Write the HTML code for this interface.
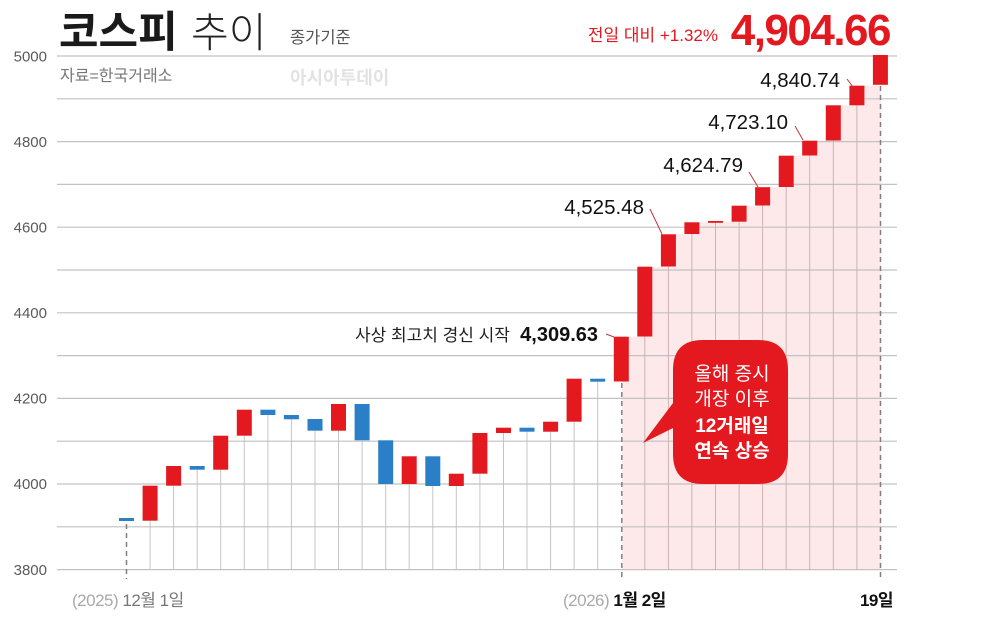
<!DOCTYPE html>
<html><head><meta charset="utf-8">
<style>
html,body{margin:0;padding:0;background:#fff;}
svg{display:block;}
text{font-family:"Liberation Sans","Noto Sans CJK KR",sans-serif;}
</style></head>
<body>
<svg width="1000" height="620" viewBox="0 0 1000 620" xmlns="http://www.w3.org/2000/svg">
<rect width="1000" height="620" fill="#fff"/>
<!-- pink area -->
<path d="M622,570 V336.7 H637.3 V266.7 H660.9 V234.3 H684.4 V222.3 H708 V221.5 H731.6 V205.7 H755.1 V187.2 H778.7 V155.7 H802.2 V140.7 H825.8 V105.3 H849.4 V85.7 H881 V570 Z" fill="#fde9e9"/>
<!-- gridlines -->
<g stroke="#c2c2c2" stroke-width="1.2">
<line x1="57" x2="897" y1="56" y2="56"/>
<line x1="57" x2="897" y1="98.8" y2="98.8"/>
<line x1="57" x2="897" y1="141.6" y2="141.6"/>
<line x1="57" x2="897" y1="184.4" y2="184.4"/>
<line x1="57" x2="897" y1="227.2" y2="227.2"/>
<line x1="57" x2="897" y1="270" y2="270"/>
<line x1="57" x2="897" y1="312.8" y2="312.8"/>
<line x1="57" x2="897" y1="355.6" y2="355.6"/>
<line x1="57" x2="897" y1="398.4" y2="398.4"/>
<line x1="57" x2="897" y1="441.2" y2="441.2"/>
<line x1="57" x2="897" y1="484" y2="484"/>
<line x1="57" x2="897" y1="526.8" y2="526.8"/>
<line x1="57" x2="897" y1="569.6" y2="569.6"/>
</g>
<!-- vertical lines -->
<g stroke="#c4c4c4" stroke-width="1">
<line x1="150.1" x2="150.1" y1="520.7" y2="570"/>
<line x1="173.6" x2="173.6" y1="485.7" y2="570"/>
<line x1="197.2" x2="197.2" y1="469.7" y2="570"/>
<line x1="220.7" x2="220.7" y1="469.7" y2="570"/>
<line x1="244.3" x2="244.3" y1="435.7" y2="570"/>
<line x1="267.9" x2="267.9" y1="415" y2="570"/>
<line x1="291.4" x2="291.4" y1="419.3" y2="570"/>
<line x1="315" x2="315" y1="430.7" y2="570"/>
<line x1="338.5" x2="338.5" y1="430.7" y2="570"/>
<line x1="362.1" x2="362.1" y1="440.3" y2="570"/>
<line x1="385.7" x2="385.7" y1="484" y2="570"/>
<line x1="409.2" x2="409.2" y1="484" y2="570"/>
<line x1="432.8" x2="432.8" y1="486" y2="570"/>
<line x1="456.3" x2="456.3" y1="486" y2="570"/>
<line x1="479.9" x2="479.9" y1="473.7" y2="570"/>
<line x1="503.5" x2="503.5" y1="433" y2="570"/>
<line x1="527" x2="527" y1="431.7" y2="570"/>
<line x1="550.6" x2="550.6" y1="431.7" y2="570"/>
<line x1="574.1" x2="574.1" y1="421.7" y2="570"/>
<line x1="597.7" x2="597.7" y1="381.7" y2="570"/>
</g>
<g stroke="#cdb3b3" stroke-width="1">
<line x1="644.8" x2="644.8" y1="336.5" y2="570"/>
<line x1="668.4" x2="668.4" y1="266.5" y2="570"/>
<line x1="691.9" x2="691.9" y1="234" y2="570"/>
<line x1="715.5" x2="715.5" y1="223" y2="570"/>
<line x1="739.1" x2="739.1" y1="221.7" y2="570"/>
<line x1="762.6" x2="762.6" y1="205.5" y2="570"/>
<line x1="786.2" x2="786.2" y1="187" y2="570"/>
<line x1="809.7" x2="809.7" y1="155.5" y2="570"/>
<line x1="833.3" x2="833.3" y1="140.5" y2="570"/>
<line x1="856.9" x2="856.9" y1="105.3" y2="570"/>
</g>
<!-- dashed lines -->
<g stroke="#808080" stroke-width="1.5" stroke-dasharray="5,4">
<line x1="126.5" x2="126.5" y1="524" y2="579"/>
<line x1="621.8" x2="621.8" y1="383" y2="579"/>
<line x1="880.5" x2="880.5" y1="86" y2="579"/>
</g>
<!-- candles -->
<g fill="#2a7fc6">
<rect x="119" y="518" width="15" height="3"/>
<rect x="189.7" y="466" width="15" height="3.7"/>
<rect x="260.4" y="409.7" width="15" height="5.3"/>
<rect x="283.9" y="415" width="15" height="4.3"/>
<rect x="307.5" y="419" width="15" height="11.7"/>
<rect x="354.6" y="404" width="15" height="36.3"/>
<rect x="378.2" y="440.3" width="15" height="43.7"/>
<rect x="425.3" y="456.3" width="15" height="29.7"/>
<rect x="519.5" y="427.7" width="15" height="4"/>
<rect x="590.2" y="378.7" width="15" height="3"/>
</g>
<g fill="#e4181f">
<rect x="142.6" y="485.7" width="15" height="35"/>
<rect x="166.1" y="466" width="15" height="19.7"/>
<rect x="213.2" y="435.7" width="15" height="34"/>
<rect x="236.8" y="409.7" width="15" height="26"/>
<rect x="331" y="404" width="15" height="26.7"/>
<rect x="401.7" y="456.3" width="15" height="27.7"/>
<rect x="448.8" y="473.7" width="15" height="12.3"/>
<rect x="472.4" y="433" width="15" height="40.7"/>
<rect x="496" y="427.7" width="15" height="5.3"/>
<rect x="543.1" y="421.7" width="15" height="10"/>
<rect x="566.6" y="378.7" width="15" height="43"/>
<rect x="613.8" y="336.7" width="15" height="44.8"/>
<rect x="637.3" y="266.7" width="15" height="69.8"/>
<rect x="660.9" y="234.3" width="15" height="32.2"/>
<rect x="684.4" y="222.3" width="15" height="11.7"/>
<rect x="708" y="221" width="15" height="1.8"/>
<rect x="731.6" y="205.7" width="15" height="16"/>
<rect x="755.1" y="187.2" width="15" height="18.3"/>
<rect x="778.7" y="155.7" width="15" height="31.3"/>
<rect x="802.2" y="140.7" width="15" height="14.8"/>
<rect x="825.8" y="105.3" width="15" height="35.2"/>
<rect x="849.4" y="85.7" width="15" height="19.6"/>
<rect x="872.9" y="55" width="15" height="29.8"/>
</g>
<!-- leader lines -->
<g stroke="#b83a3a" stroke-width="1">
<line x1="606" y1="334" x2="614" y2="337"/>
<line x1="650" y1="209" x2="662" y2="234"/>
<line x1="749" y1="172" x2="758" y2="187"/>
<line x1="795" y1="126" x2="803" y2="140"/>
<line x1="847" y1="79" x2="853" y2="87"/>
</g>
<!-- axis labels -->
<g font-size="15" fill="#5a5a5a" text-anchor="end">
<text x="47" y="61.5">5000</text>
<text x="47" y="147">4800</text>
<text x="47" y="232.5">4600</text>
<text x="47" y="318">4400</text>
<text x="47" y="403.5">4200</text>
<text x="47" y="489">4000</text>
<text x="47" y="575">3800</text>
</g>
<!-- title -->
<text x="59" y="47" font-size="43" font-weight="bold" fill="#1a1a1a">코스피</text>
<text x="191" y="47" font-size="41" font-weight="300" fill="#222">추이</text>
<text x="290" y="43" font-size="16.5" fill="#555">종가기준</text>
<text x="60" y="81" font-size="16" fill="#777">자료=한국거래소</text>
<text x="290" y="84" font-size="18" font-weight="bold" fill="#e2e2e2">아시아투데이</text>
<text x="718" y="41" font-size="17" fill="#e3191f" text-anchor="end">전일 대비 +1.32%</text>
<text x="890" y="45" font-size="44" font-weight="bold" fill="#e3191f" text-anchor="end" letter-spacing="-1.5">4,904.66</text>
<!-- value labels -->
<g font-size="20.5" fill="#111" text-anchor="end">
<text x="840" y="87">4,840.74</text>
<text x="788" y="129">4,723.10</text>
<text x="743" y="172">4,624.79</text>
<text x="644" y="214">4,525.48</text>
<text x="598" y="341" font-weight="bold" font-size="20">4,309.63</text>
</g>
<text x="355" y="341" font-size="17" fill="#222">사상 최고치 경신 시작</text>
<!-- bubble -->
<path d="M703,340 H758 Q788,340 788,370 V454 Q788,484 758,484 H703 Q673,484 673,454 V428 L643,443 L673,403 V370 Q673,340 703,340 Z" fill="#e3191f"/>
<g font-size="19" fill="#fff" text-anchor="middle">
<text x="732" y="380">올해 증시</text>
<text x="732" y="405">개장 이후</text>
<text x="732" y="432" font-weight="bold">12거래일</text>
<text x="732" y="457" font-weight="bold">연속 상승</text>
</g>
<!-- bottom labels -->
<text x="72" y="606" font-size="17" letter-spacing="-0.5"><tspan fill="#aaa">(2025)</tspan><tspan fill="#777"> 12월 1일</tspan></text>
<text x="563" y="606" font-size="17" letter-spacing="-0.5"><tspan fill="#aaa">(2026) </tspan><tspan fill="#111" font-weight="bold">1월 2일</tspan></text>
<text x="893" y="606" font-size="17" font-weight="bold" fill="#111" text-anchor="end" letter-spacing="-0.5">19일</text>
</svg>
</body></html>
